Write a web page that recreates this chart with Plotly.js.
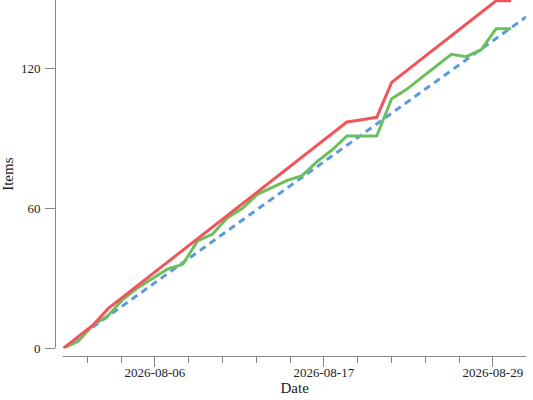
<!DOCTYPE html>
<html>
<head>
<meta charset="utf-8">
<script src="https://cdn.plot.ly/plotly-3.0.1.min.js"></script>
<style>
  html, body { margin: 0; padding: 0; background: #fff; }
  #chart { width: 533px; height: 400px; }
</style>
</head>
<body>
<div id="chart"></div>
<script>
const dates = [
  '2026-07-31','2026-08-01','2026-08-02','2026-08-03','2026-08-04','2026-08-05',
  '2026-08-06','2026-08-07','2026-08-08','2026-08-09','2026-08-10','2026-08-11',
  '2026-08-12','2026-08-13','2026-08-14','2026-08-15','2026-08-16','2026-08-17',
  '2026-08-18','2026-08-19','2026-08-20','2026-08-21','2026-08-22','2026-08-23',
  '2026-08-24','2026-08-25','2026-08-26','2026-08-27','2026-08-28','2026-08-29',
  '2026-08-30'
];
const scope = [0,5,10,17,22,27,32,37,42,47,52,57,62,67,72,77,82,87,92,97,98,99,114,119,124,129,134,139,144,149,149];
const completed = [0,3,10,14,21,26,30,34,36,46,49,56,60,66,69,72,74,80,85,91,91,91,107,111,116,121,126,125,128,137,137];
const idealDates = ['2026-07-31','2026-08-31'];
const idealValues = [0,142];

const majorTickVals = ['2026-08-06 03:17','2026-08-17 10:58','2026-08-28 18:39'];
const majorTickText = ['2026-08-06','2026-08-17','2026-08-29'];
const minorTickVals = ['2026-08-01 14:37','2026-08-03 20:57','2026-08-08 09:37','2026-08-10 15:58',
  '2026-08-12 22:18','2026-08-15 04:38','2026-08-19 17:18','2026-08-21 23:38',
  '2026-08-24 05:59','2026-08-26 12:19'];
const yTickVals = [0,60,120];

const W = 533, H = 400;
const ml = 55, mr = 7, mt = 0, mb = 44;
const plotW = W - ml - mr, plotH = H - mt - mb;

const traces = [
  { x: idealDates, y: idealValues, mode: 'lines', name: 'Ideal',
    line: { color: '#5b9bd9', width: 3, dash: '7px,5px' } },
  { x: dates, y: completed, mode: 'lines', name: 'Completed',
    line: { color: '#6cbf5c', width: 3 } },
  { x: dates, y: scope, mode: 'lines', name: 'Scope',
    line: { color: '#f0555b', width: 3 } }
];

const axisColor = '#888';
const layout = {
  width: W, height: H,
  margin: { l: ml, r: mr, t: mt, b: mb, pad: 0 },
  paper_bgcolor: '#fff', plot_bgcolor: '#fff',
  showlegend: false,
  font: { family: '"Liberation Serif", "DejaVu Serif", serif', size: 13, color: '#222' },
  xaxis: {
    type: 'date',
    domain: [8.3 / plotW, 1],
    range: ['2026-07-31', '2026-08-31'],
    anchor: 'free', position: 0,
    showgrid: false, zeroline: false,
    showline: true, linecolor: axisColor, linewidth: 1,
    ticks: 'outside', ticklen: 10, tickcolor: axisColor, tickwidth: 1,
    tickmode: 'array', tickvals: majorTickVals, ticktext: majorTickText,
    tickfont: { size: 13, color: '#222' },
    ticklabelstandoff: -6,
    minor: { tickmode: 'array', tickvals: minorTickVals, ticks: 'outside', ticklen: 6, tickcolor: axisColor, tickwidth: 1, showgrid: false },
    title: { text: 'Date', font: { size: 15, color: '#222' }, standoff: 2 }
  },
  yaxis: {
    range: [0, 149.3],
    domain: [7.7 / plotH, 1],
    anchor: 'free', position: 0,
    showgrid: false, zeroline: false,
    showline: true, linecolor: axisColor, linewidth: 1,
    ticks: 'outside', ticklen: 10, tickcolor: axisColor, tickwidth: 1,
    tickmode: 'array', tickvals: yTickVals,
    tickfont: { size: 13, color: '#222' },
    ticklabelstandoff: 2,
    title: { text: 'Items', font: { size: 15, color: '#222' }, standoff: 8 }
  }
};

Plotly.newPlot('chart', traces, layout, { displayModeBar: false, staticPlot: true });
</script>
</body>
</html>
